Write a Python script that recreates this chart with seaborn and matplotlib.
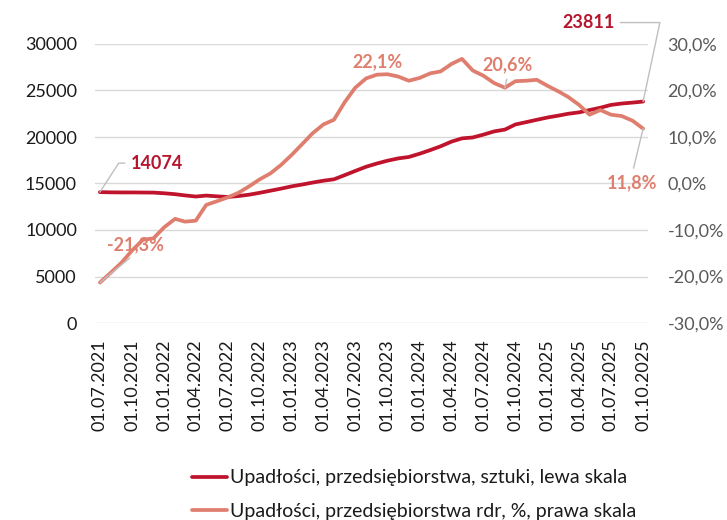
import numpy as np
import pandas as pd
import matplotlib
matplotlib.use('Agg')
import matplotlib.pyplot as plt
from matplotlib.ticker import FuncFormatter
import seaborn as sns

# Dane miesieczne 07.2021 - 10.2025
months = pd.date_range('2021-07-01', '2025-10-01', freq='MS')

# Upadlosci, przedsiebiorstwa, sztuki (lewa skala)
count_values = [14074, 14050, 14040, 14040, 14030, 14020, 13950, 13850,
                13720, 13600, 13700, 13620, 13550, 13650, 13800, 14000,
                14230, 14450, 14700, 14900, 15100, 15300, 15450, 15900,
                16350, 16800, 17150, 17450, 17700, 17850, 18200, 18600,
                19000, 19500, 19850, 19950, 20250, 20600, 20800, 21350,
                21600, 21850, 22100, 22300, 22500, 22650, 22900, 23150,
                23450, 23600, 23700, 23811]

# Upadlosci, przedsiebiorstwa rdr, % (prawa skala)
yoy_values = [-21.3, -19.2, -17.0, -14.4, -12.1, -11.8, -9.4, -7.6,
              -8.2, -8.0, -4.6, -3.8, -3.0, -2.0, -0.6, 0.9,
              2.2, 4.0, 6.2, 8.6, 10.8, 12.7, 13.7, 17.5,
              20.6, 22.6, 23.4, 23.5, 23.0, 22.1, 22.7, 23.7,
              24.1, 25.7, 26.8, 24.3, 23.2, 21.6, 20.6, 22.0,
              22.1, 22.3, 21.0, 19.8, 18.6, 16.9, 14.8, 15.8,
              14.8, 14.5, 13.5, 11.8]

series_names = ['Upadłości, przedsiębiorstwa, sztuki, lewa skala',
                'Upadłości, przedsiębiorstwa rdr, %, prawa skala']

left_ticks = [0, 5000, 10000, 15000, 20000, 25000, 30000]
right_ticks = [-30, -20, -10, 0, 10, 20, 30]
tick_months = months[::3]
tick_labels = [d.strftime('%d.%m.%Y') for d in tick_months]

df = pd.DataFrame({'Data': months, 'Sztuki': count_values,
                   'Rdr': yoy_values})

DARK_RED = '#C0142D'
SALMON = '#DF7E6E'
GRID = '#D9D9D9'

sns.set_theme(style='white')
plt.rcParams['font.family'] = ['Lato', 'DejaVu Sans']

fig = plt.figure(figsize=(7.27, 5.2), dpi=100)
ax = fig.add_axes([95 / 727, 1 - 323 / 520, (648 - 95) / 727,
                   (323 - 44) / 520])
ax2 = ax.twinx()

sns.lineplot(data=df, x='Data', y='Sztuki', ax=ax, color=DARK_RED,
             linewidth=2.7, legend=False)
sns.lineplot(data=df, x='Data', y='Rdr', ax=ax2, color=SALMON,
             linewidth=2.7, legend=False)

pad = pd.Timedelta(days=14)
ax.set_xlim(months[0] - pad, months[-1] + pad)
ax.set_ylim(0, 30000)
ax2.set_ylim(-30, 30)

ax.set_yticks(left_ticks)
ax2.set_yticks(right_ticks)
ax.set_xticks(tick_months)
ax.set_xticklabels(tick_labels, rotation=90)
ax2.yaxis.set_major_formatter(
    FuncFormatter(lambda v, p: ('%.1f%%' % v).replace('.', ',')))

ax.grid(axis='y', color=GRID, linewidth=1)
ax.grid(axis='x', visible=False)
ax2.grid(False)
for a in (ax, ax2):
    for s in a.spines.values():
        s.set_visible(False)
    a.set_xlabel('')
    a.set_ylabel('')

ax.tick_params(axis='y', length=0, pad=13, labelsize=13, labelcolor='#1A1A1A')
ax.tick_params(axis='x', length=0, pad=12, labelsize=13, labelcolor='#1A1A1A')
ax2.tick_params(axis='y', length=0, pad=14, labelsize=13, labelcolor='#595959')

# Etykiety danych
leader = dict(arrowstyle='-', color='#BFBFBF', lw=1)


def label(axis, i, vals, text, dx, dy, color, conn=None, relpos=(0.5, 0.5)):
    props = dict(leader, shrinkA=2, shrinkB=0, relpos=relpos)
    if conn:
        props['connectionstyle'] = conn
    axis.annotate(text, xy=(months[i], vals[i]), xytext=(dx, dy),
                  textcoords='offset pixels', ha='center', va='center',
                  fontsize=13, fontweight='bold', color=color,
                  arrowprops=props)


label(ax, 0, count_values, '14074', 57, 29, '#B5162E',
      conn='angle,angleA=0,angleB=57,rad=0', relpos=(0, 0.5))
label(ax, 51, count_values, '23811', -55, 79, '#B5162E',
      conn='angle,angleA=0,angleB=78,rad=0', relpos=(1, 0.5))
label(ax2, 0, yoy_values, '-21,3%', 36, 38, SALMON, relpos=(0.5, 0))
label(ax2, 38, yoy_values, '20,6%', 3, 23, SALMON, relpos=(0.5, 0))
label(ax2, 51, yoy_values, '11,8%', -11, -54, SALMON, relpos=(0.5, 1))
ax2.annotate('22,1%', xy=(months[26], yoy_values[26]), xytext=(1, 13),
             textcoords='offset pixels', ha='center', va='center',
             fontsize=13, fontweight='bold', color=SALMON)

handles = [ax.get_lines()[0], ax2.get_lines()[0]]
fig.legend(handles, series_names, loc='upper left',
           bbox_to_anchor=(174 / 727, 1 - 452 / 520), frameon=False,
           fontsize=14, handlelength=1.8, handletextpad=0.2,
           labelspacing=0.85, labelcolor='#1A1A1A')

fig.savefig('out.png', dpi=100)
